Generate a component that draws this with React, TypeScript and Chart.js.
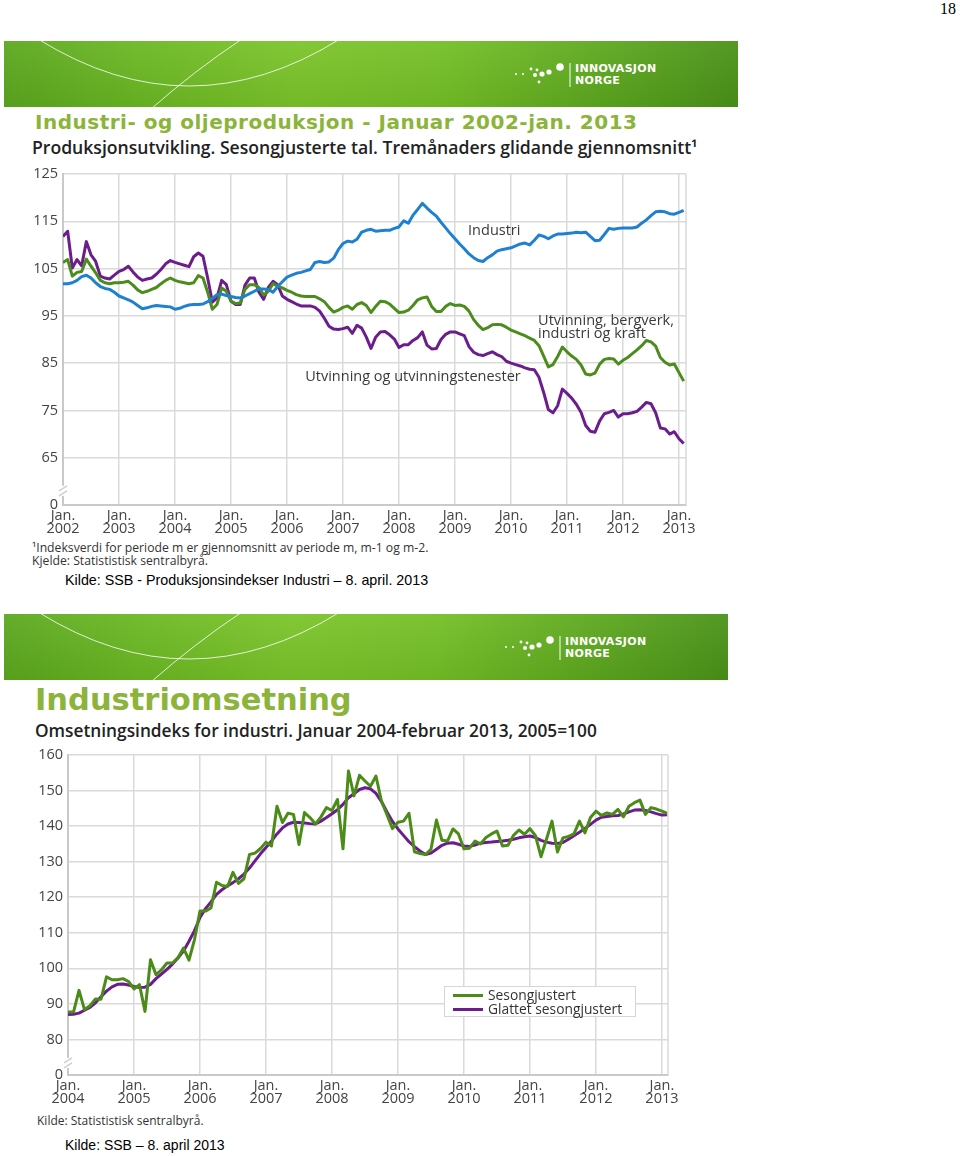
import React, { useEffect, useRef } from 'react';
import { Chart, registerables } from 'chart.js';

Chart.register(...registerables);

// ---------- Chart 1: Industri- og oljeproduksjon (monthly, Jan 2002 - Feb 2013) ----------
const years1 = ['2002', '2003', '2004', '2005', '2006', '2007', '2008', '2009', '2010', '2011', '2012', '2013'];
const yTicks1 = ['0', '65', '75', '85', '95', '105', '115', '125'];
const seriesNames1 = ['Industri', 'Utvinning, bergverk, industri og kraft', 'Utvinning og utvinningstenester'];

const industri = [
  101.8, 101.8, 102.0, 102.5, 103.3, 103.6, 103.0, 102.0, 101.2, 100.8, 100.6, 100.0,
  99.2, 98.8, 98.4, 97.9, 97.2, 96.5, 96.7, 97.0, 97.2, 97.1, 97.0, 96.9,
  96.4, 96.6, 97.0, 97.3, 97.4, 97.4, 97.5, 98.0, 98.7, 99.5, 99.6, 99.3,
  99.1, 98.9, 98.8, 99.2, 99.7, 100.2, 100.7, 100.7, 100.6, 100.0, 101.2, 102.2,
  103.2, 103.6, 104.0, 104.2, 104.5, 104.8, 106.3, 106.5, 106.3, 106.4, 107.2, 109.0,
  110.3, 110.8, 110.6, 111.2, 112.7, 113.1, 113.3, 112.9, 113.0, 113.1, 113.1, 113.5,
  113.8, 115.1, 114.6, 116.3, 117.5, 118.8, 117.8, 116.9, 116.1, 114.8, 113.6, 112.4,
  111.3, 110.2, 109.2, 108.1, 107.3, 106.7, 106.5, 107.3, 107.9, 108.7, 109.0, 109.2,
  109.4, 109.8, 110.2, 110.4, 110.0, 111.0, 112.1, 111.8, 111.3, 111.9, 112.3, 112.3,
  112.4, 112.5, 112.7, 112.6, 112.7, 111.8, 110.9, 111.0, 112.2, 113.5, 113.3, 113.5,
  113.6, 113.6, 113.6, 113.8, 114.6, 115.3, 116.2, 117.0, 117.1, 117.0, 116.6, 116.5,
  116.9, 117.3,
];

const utvinningBergverk = [
  106.3, 106.9, 103.4, 104.2, 104.4, 107.0, 105.5, 104.1, 102.5, 102.0, 101.8, 102.0,
  102.0, 102.1, 102.3, 101.5, 100.5, 99.9, 100.2, 100.6, 101.0, 101.8, 102.5, 103.0,
  102.5, 102.2, 102.0, 101.8, 102.0, 103.5, 103.0, 100.0, 96.4, 97.4, 100.9, 100.2,
  98.1, 97.6, 97.7, 100.6, 101.6, 101.6, 101.0, 99.4, 100.2, 101.8, 101.3, 100.9,
  100.4, 100.0, 99.5, 99.2, 99.1, 99.1, 99.1, 98.6, 98.0, 96.8, 95.8, 96.2,
  96.8, 97.1, 96.4, 97.4, 97.8, 97.2, 95.7, 97.0, 98.1, 98.0, 97.5, 96.6,
  95.7, 95.8, 96.2, 97.2, 98.4, 98.8, 99.0, 97.0, 95.9, 95.9, 97.0, 97.6,
  97.2, 97.3, 97.0, 96.0, 94.2, 93.0, 92.1, 92.5, 93.1, 93.2, 93.1, 92.6,
  92.0, 91.6, 91.2, 90.8, 90.3, 89.8, 88.7, 86.5, 84.2, 84.7, 86.4, 88.4,
  87.4, 86.5, 85.8, 84.6, 82.7, 82.5, 82.9, 84.8, 85.8, 86.0, 85.9, 84.8,
  85.6, 86.2, 87.0, 87.8, 88.7, 89.8, 89.5, 88.6, 86.2, 85.2, 84.6, 84.8,
  83.0, 81.2,
];

const utvinningTenester = [
  111.8, 112.9, 105.1, 106.9, 105.6, 110.7, 107.9, 106.5, 103.4, 103.0, 102.8, 103.6,
  104.4, 104.8, 105.5, 104.3, 103.2, 102.5, 102.8, 103.0, 103.8, 104.8, 106.0, 106.7,
  106.3, 106.0, 105.7, 105.4, 107.5, 108.3, 107.6, 103.0, 97.9, 98.8, 102.5, 101.6,
  98.1, 97.4, 97.4, 101.5, 103.0, 103.0, 100.0, 98.5, 101.0, 102.3, 101.6, 99.2,
  98.5, 98.0, 97.5, 97.1, 97.1, 97.1, 96.8, 96.0, 94.5, 92.8, 92.2, 92.1,
  92.3, 92.6, 91.3, 93.0, 92.4, 90.5, 88.1, 90.5, 91.6, 91.7, 91.0, 90.1,
  88.3, 88.9, 88.9, 89.8, 90.4, 91.6, 88.8, 88.0, 88.1, 90.0, 91.1, 91.6,
  91.6, 91.2, 90.8, 88.5, 87.3, 86.8, 86.6, 87.0, 87.4, 86.8, 86.4, 85.4,
  85.0, 84.7, 84.4, 84.0, 83.7, 83.6, 82.0, 78.8, 75.2, 74.5, 76.0, 79.5,
  78.6, 77.6, 76.3, 74.6, 71.8, 70.6, 70.4, 72.8, 74.3, 74.6, 75.0, 73.6,
  74.3, 74.3, 74.5, 74.8, 75.7, 76.7, 76.4, 74.5, 71.3, 71.1, 70.0, 70.5,
  69.0, 68.0,
];

// ---------- Chart 2: Industriomsetning (monthly, Jan 2004 - Feb 2013) ----------
const years2 = ['2004', '2005', '2006', '2007', '2008', '2009', '2010', '2011', '2012', '2013'];
const yTicks2 = ['0', '80', '90', '100', '110', '120', '130', '140', '150', '160'];
const seriesNames2 = ['Sesongjustert', 'Glattet sesongjustert'];

const sesongjustert = [
  87.7, 87.7, 93.8, 88.4, 89.5, 91.4, 91.3, 97.6, 96.8, 96.8, 97.1, 96.3,
  94.2, 95.4, 87.9, 102.4, 98.2, 99.6, 101.5, 101.5, 103.0, 105.7, 102.3, 108.1,
  116.1, 116.1, 117.0, 124.2, 123.3, 123.0, 127.0, 123.9, 125.2, 132.0, 132.4, 133.7,
  135.5, 134.4, 145.6, 141.0, 143.6, 143.3, 134.8, 143.8, 142.4, 140.6, 142.6, 145.2,
  144.4, 147.5, 133.6, 155.5, 148.5, 154.3, 152.7, 151.2, 154.1, 147.0, 143.2, 139.3,
  141.1, 141.4, 143.6, 132.8, 132.3, 132.0, 133.5, 141.7, 136.0, 135.8, 139.2, 137.8,
  133.6, 133.8, 135.8, 135.0, 136.8, 137.8, 138.6, 134.4, 134.6, 137.4, 138.9, 137.7,
  139.3, 137.3, 131.4, 136.3, 141.4, 132.7, 136.7, 137.1, 137.8, 141.4, 138.1, 142.4,
  144.2, 143.0, 143.7, 143.3, 144.7, 142.6, 145.6, 146.6, 147.3, 143.3, 145.2, 144.8,
  144.2, 143.6,
];

const glattet = [
  87.0, 87.1, 87.4, 88.2, 89.0, 90.3, 92.0, 93.6, 94.8, 95.5, 95.6, 95.3,
  94.9, 94.6, 94.7, 95.5, 97.1, 98.4, 99.7, 101.2, 102.9, 104.9, 107.6, 110.6,
  114.3, 116.8, 118.7, 120.8, 122.1, 123.2, 124.1, 125.2, 126.5, 128.2, 130.2, 132.2,
  134.0, 135.8, 137.8, 139.5, 140.6, 141.1, 141.0, 140.9, 140.7, 140.6, 141.4, 142.4,
  143.5, 144.6, 146.1, 148.0, 149.1, 150.3, 150.8, 150.5, 149.2, 146.9, 144.0, 141.3,
  139.2, 137.4, 135.6, 134.2, 133.0, 132.0, 132.4, 133.5, 134.6, 135.2, 135.3, 134.9,
  134.4, 134.3, 134.7, 135.2, 135.4, 135.5, 135.7, 135.8, 136.0, 136.3, 136.7, 137.0,
  137.2, 136.8, 136.0, 135.5, 135.2, 135.1, 135.4, 136.3, 137.3, 138.3, 139.3, 140.5,
  141.7, 142.5, 142.7, 142.9, 143.0, 143.4, 144.0, 144.5, 144.6, 144.4, 144.0, 143.5,
  143.1, 143.2,
];

// in-chart annotations for chart 1 (month index, value)
const chart1Notes = [
  { text: 'Industri', m: 86.8, v: 113.0 },
  { text: 'Utvinning, bergverk,', m: 101.8, v: 94.0 },
  { text: 'industri og kraft', m: 101.8, v: 91.2 },
  { text: 'Utvinning og utvinningstenester', m: 51.9, v: 82.1 },
];

const GRID = '#dadada';
const AXIS = '#c9c9c9';
const FONT = "'Open Sans', 'DejaVu Sans', sans-serif";
const CHART_FONT_SIZE = 14.5;

const framePlugin = {
  id: 'frame',
  afterDraw(chart: any, _args: any, opts: any) {
    const { ctx, chartArea } = chart;
    ctx.save();
    // right border
    ctx.strokeStyle = GRID;
    ctx.lineWidth = 1.5;
    ctx.beginPath();
    ctx.moveTo(chartArea.right, chartArea.top);
    ctx.lineTo(chartArea.right, chartArea.bottom);
    ctx.stroke();
    // axis break mark
    if (opts && opts.breakAt != null) {
      const y = chart.scales.y.getPixelForValue(opts.breakAt);
      const x = chartArea.left;
      ctx.fillStyle = '#fff';
      ctx.fillRect(x - 3, y - 5, 6, 10);
      ctx.strokeStyle = '#cfcfcf';
      ctx.lineWidth = 1.5;
      [-2.5, 2.5].forEach((d) => {
        ctx.beginPath();
        ctx.moveTo(x - 4, y + d + 2.5);
        ctx.lineTo(x + 4, y + d - 2.5);
        ctx.stroke();
      });
    }
    // notes
    if (opts && opts.notes) {
      ctx.fillStyle = '#3a3a3a';
      ctx.font = `${CHART_FONT_SIZE}px ${FONT}`;
      ctx.textAlign = 'left';
      ctx.textBaseline = 'middle';
      opts.notes.forEach((n: any) => {
        ctx.fillText(n.text, chart.scales.x.getPixelForValue(n.m), chart.scales.y.getPixelForValue(n.v));
      });
    }
    ctx.restore();
  },
};

function makeOptions(p: {
  xMax: number; yMin: number; yMax: number; years: string[]; yTicks: string[];
  yWidth: number; xHeight: number; padTop: number; padRight: number; breakAt: number; notes?: any[];
}) {
  return {
    responsive: false,
    animation: false as const,
    events: [] as any[],
    layout: { padding: { top: p.padTop, right: p.padRight, left: 0, bottom: 0 } },
    elements: { point: { radius: 0 }, line: { borderWidth: 3, tension: 0, borderJoinStyle: 'round' as const } },
    plugins: {
      legend: { display: false },
      tooltip: { enabled: false },
      frame: { breakAt: p.breakAt, notes: p.notes },
    },
    scales: {
      x: {
        type: 'linear' as const,
        min: 0,
        max: p.xMax,
        grid: { color: GRID, lineWidth: 1.5, drawTicks: false },
        border: { color: AXIS, width: 2 },
        ticks: {
          stepSize: 12,
          includeBounds: false,
          autoSkip: false,
          maxRotation: 0,
          padding: 5,
          color: '#444',
          font: { family: FONT, size: CHART_FONT_SIZE, lineHeight: 0.85 },
          callback: (v: any) => ['Jan.', p.years[Math.round(Number(v) / 12)]],
        },
        afterFit: (s: any) => { s.height = p.xHeight; },
      },
      y: {
        min: p.yMin,
        max: p.yMax,
        grid: { color: GRID, lineWidth: 1.5, drawTicks: false },
        border: { color: AXIS, width: 2 },
        ticks: {
          stepSize: 10,
          padding: 5,
          color: '#444',
          font: { family: FONT, size: CHART_FONT_SIZE },
          callback: (_v: any, i: number) => p.yTicks[i],
        },
        afterFit: (s: any) => { s.width = p.yWidth; },
      },
    },
  };
}

function ChartCanvas(props: { left: number; top: number; width: number; height: number; config: () => any }) {
  const ref = useRef<HTMLCanvasElement | null>(null);
  useEffect(() => {
    if (!ref.current) return;
    const chart = new Chart(ref.current, props.config());
    return () => chart.destroy();
  }, []);
  return (
    <canvas
      ref={ref}
      width={props.width}
      height={props.height}
      style={{ position: 'absolute', left: props.left, top: props.top, width: props.width, height: props.height }}
    />
  );
}

const chart1Config = () => ({
  type: 'line',
  data: {
    datasets: [
      { label: seriesNames1[0], data: industri.map((v, i) => ({ x: i, y: v })), borderColor: '#1f80d0' },
      { label: seriesNames1[1], data: utvinningBergverk.map((v, i) => ({ x: i, y: v })), borderColor: '#4b8c1c' },
      { label: seriesNames1[2], data: utvinningTenester.map((v, i) => ({ x: i, y: v })), borderColor: '#6c1d8c' },
    ],
  },
  options: makeOptions({
    xMax: 133.5, yMin: 55, yMax: 125, years: years1, yTicks: yTicks1,
    yWidth: 43, xHeight: 30, padTop: 14, padRight: 24, breakAt: 58, notes: chart1Notes,
  }),
  plugins: [framePlugin],
});

const chart2Config = () => ({
  type: 'line',
  data: {
    datasets: [
      { label: seriesNames2[0], data: sesongjustert.map((v, i) => ({ x: i, y: v })), borderColor: '#4a8c17' },
      { label: seriesNames2[1], data: glattet.map((v, i) => ({ x: i, y: v })), borderColor: '#6b1d8d' },
    ],
  },
  options: makeOptions({
    xMax: 109.1, yMin: 70, yMax: 160, years: years2, yTicks: yTicks2,
    yWidth: 48, xHeight: 35, padTop: 15, padRight: 32, breakAt: 73.4,
  }),
  plugins: [framePlugin],
});

function Banner(props: { left: number; top: number; width: number }) {
  const w = props.width;
  const lx = w - 163;
  return (
    <div
      style={{
        position: 'absolute', left: props.left, top: props.top, width: w, height: 66, overflow: 'hidden',
        background: 'linear-gradient(90deg, #5ba81e 0%, #6cb923 20%, #7bc42a 40%, #74bf26 60%, #5ca71e 82%, #4a9218 100%)',
      }}
    >
      <div style={{ position: 'absolute', inset: 0, background: 'linear-gradient(180deg, rgba(255,255,255,0.06) 0%, rgba(0,0,0,0.06) 100%)' }} />
      <svg width={w} height={66} style={{ position: 'absolute', left: 0, top: 0 }}>
        <path d="M34,-2 Q185,92 336,-2" stroke="rgba(255,255,255,0.8)" strokeWidth="1" fill="none" />
        <path d="M238,-2 Q190,30 147,68" stroke="rgba(255,255,255,0.8)" strokeWidth="1" fill="none" />
        <circle cx={lx - 59} cy={33} r={1} fill="#fff" />
        <circle cx={lx - 52} cy={33} r={1} fill="#fff" />
        <circle cx={lx - 44} cy={28} r={1.4} fill="#fff" />
        <circle cx={lx - 38} cy={29} r={1.4} fill="#fff" />
        <circle cx={lx - 40} cy={34} r={2} fill="#fff" />
        <circle cx={lx - 33} cy={33} r={2.6} fill="#fff" />
        <circle cx={lx - 26} cy={31} r={2.6} fill="#fff" />
        <circle cx={lx - 36} cy={41} r={1.4} fill="#fff" />
        <circle cx={lx - 15} cy={26} r={3.8} fill="#fff" />
        <line x1={lx - 5} y1={22} x2={lx - 5} y2={46} stroke="#fff" strokeWidth={1} />
      </svg>
      <div
        style={{
          position: 'absolute', left: lx, top: 22, color: '#fff', fontFamily: "'DejaVu Sans', sans-serif",
          fontWeight: 700, fontSize: 11, lineHeight: '12px', letterSpacing: '0.3px',
        }}
      >
        INNOVASJON
        <br />
        NORGE
      </div>
    </div>
  );
}

function Text(props: { left: number; top: number; size: number; family: string; weight?: number; color?: string; spacing?: number; children: any }) {
  return (
    <div
      style={{
        position: 'absolute', left: props.left, top: props.top, fontSize: props.size, lineHeight: '1',
        fontFamily: props.family, fontWeight: props.weight || 400, color: props.color || '#000',
        whiteSpace: 'nowrap', letterSpacing: props.spacing ? `${props.spacing}px` : undefined,
      }}
    >
      {props.children}
    </div>
  );
}

const DEJAVU = "'DejaVu Sans', sans-serif";
const OPEN = "'Open Sans', sans-serif";
const ARIAL = "'Liberation Sans', Arial, sans-serif";
const SERIF = "'Liberation Serif', 'Times New Roman', serif";
const TITLE_GREEN = '#8cb43a';

export default function App() {
  return (
    <div style={{ position: 'absolute', left: 0, top: 0, width: 960, height: 1156, overflow: 'hidden', background: '#fff' }}>
      <Text left={940} top={1} size={16} family={SERIF}>18</Text>

      <Banner left={4} top={41} width={734} />
      <Text left={35} top={112} size={20} family={DEJAVU} weight={700} color={TITLE_GREEN} spacing={0.5}>
        Industri- og oljeproduksjon - Januar 2002-jan. 2013
      </Text>
      <Text left={32} top={139} size={17.6} family={OPEN} weight={600} color="#222">
        Produksjonsutvikling. Sesongjusterte tal. Tremånaders glidande gjennomsnitt¹
      </Text>
      <ChartCanvas left={20} top={160} width={690} height={375} config={chart1Config} />
      <Text left={32} top={542} size={12.2} family={OPEN} color="#333">
        ¹Indeksverdi for periode m er gjennomsnitt av periode m, m-1 og m-2.
      </Text>
      <Text left={32} top={555} size={12.2} family={OPEN} color="#333">
        Kjelde: Statististisk sentralbyrå.
      </Text>
      <Text left={65} top={573} size={14.3} family={ARIAL}>
        Kilde: SSB - Produksjonsindekser Industri – 8. april. 2013
      </Text>

      <Banner left={4} top={614} width={724} />
      <Text left={35} top={685} size={30.5} family={DEJAVU} weight={700} color={TITLE_GREEN}>
        Industriomsetning
      </Text>
      <Text left={35} top={722} size={17.3} family={OPEN} weight={600} color="#222">
        Omsetningsindeks for industri. Januar 2004-februar 2013, 2005=100
      </Text>
      <ChartCanvas left={20} top={740} width={680} height={370} config={chart2Config} />
      <div
        style={{
          position: 'absolute', left: 444, top: 986, width: 192, height: 31, boxSizing: 'border-box',
          background: '#fff', border: '1px solid #d6d6d6',
        }}
      >
        {seriesNames2.map((name, i) => (
          <div key={name} style={{ position: 'absolute', left: 8, top: 1 + i * 14, height: 14, display: 'flex', alignItems: 'center' }}>
            <div style={{ width: 30, height: 3, background: i === 0 ? '#4a8c17' : '#6b1d8d', marginRight: 5 }} />
            <span style={{ fontFamily: OPEN, fontSize: 13.8, color: '#333', lineHeight: '14px', whiteSpace: 'nowrap' }}>{name}</span>
          </div>
        ))}
      </div>
      <Text left={37} top={1115} size={12} family={OPEN} color="#333">
        Kilde: Statististisk sentralbyrå.
      </Text>
      <Text left={65} top={1138} size={14} family={ARIAL}>
        Kilde: SSB – 8. april 2013
      </Text>
    </div>
  );
}
